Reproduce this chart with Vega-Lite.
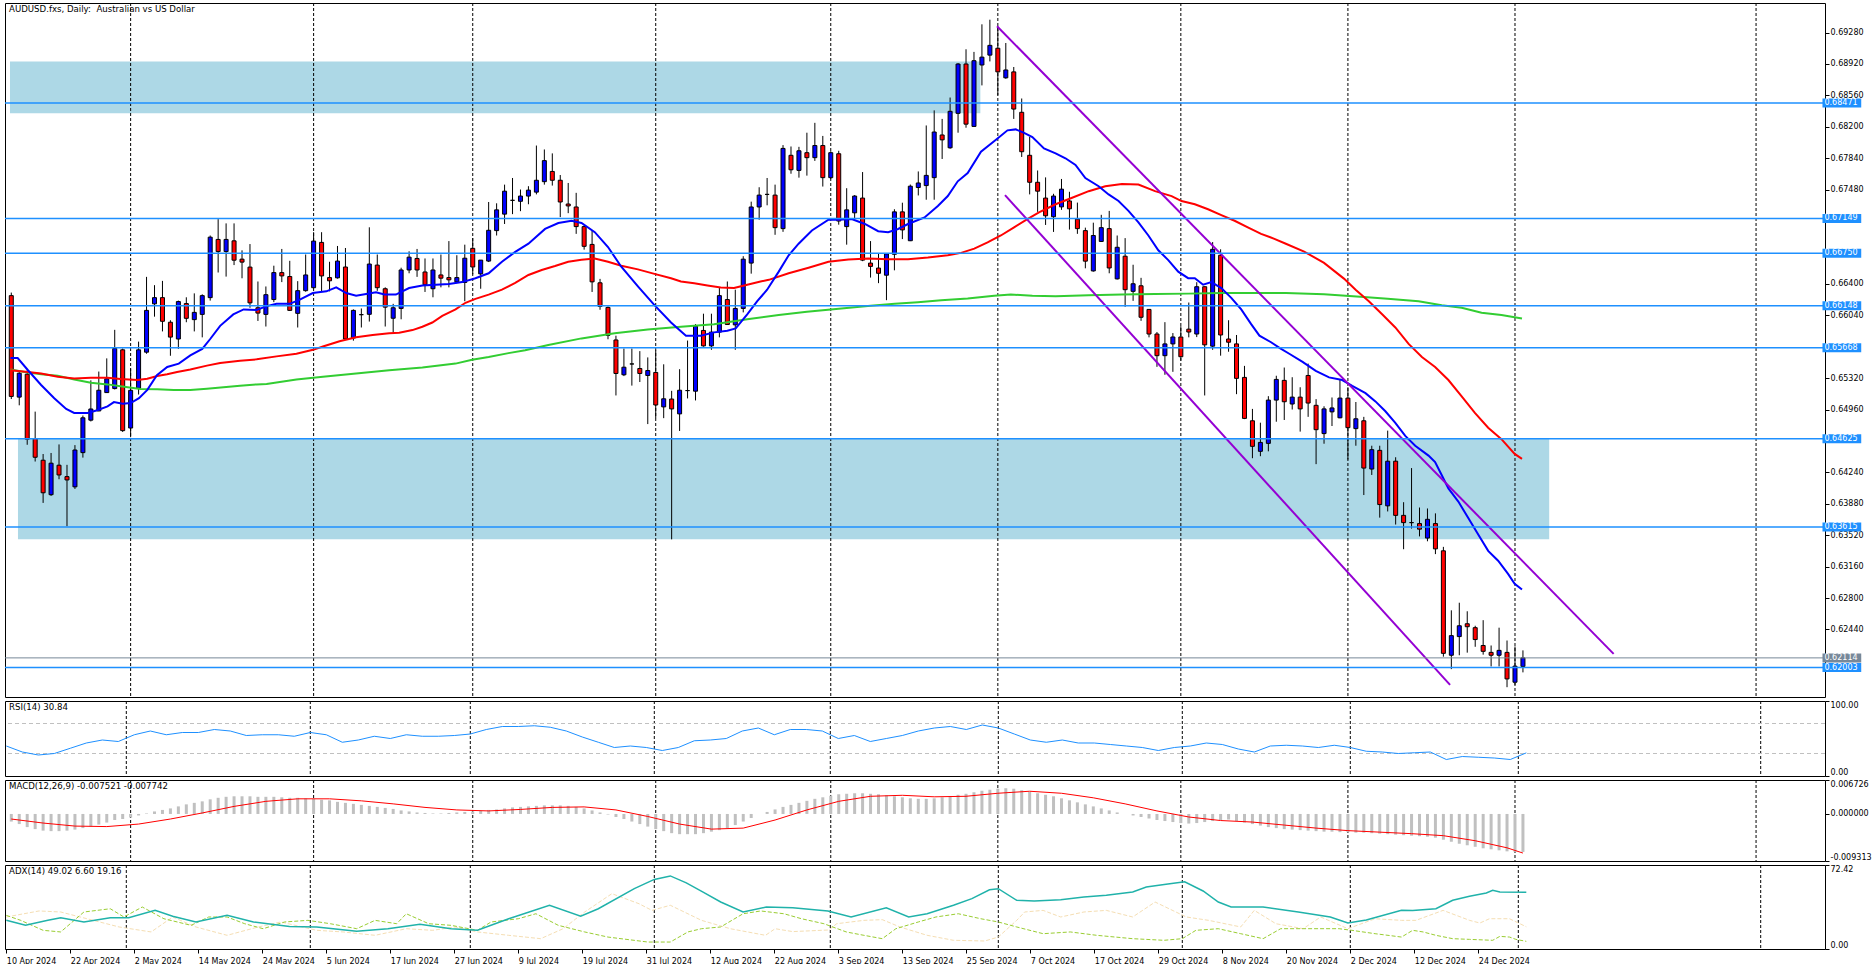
{
"$schema": "https://vega.github.io/schema/vega-lite/v6.json",
"padding": {"left": 2, "top": 2, "right": 0, "bottom": 0},
"background": "white",
"spacing": 2,
"config": {
  "view": {"stroke": "#000000", "strokeWidth": 1},
  "font": "DejaVu Sans",
  "axis": {"labelFont": "DejaVu Sans", "labelFontSize": 8, "labelColor": "#000000", "tickColor": "#000000", "grid": false, "title": null, "tickSize": 4, "labelPadding": 1, "domain": false, "labelOverlap": false},
  "title": {"font": "DejaVu Sans", "fontSize": 8.6, "fontWeight": "normal", "color": "#000000", "anchor": "start", "frame": "group", "offset": -11, "dx": 4, "baseline": "alphabetic"}
},
"datasets": {
  "grid": [{"i":15},{"i":38},{"i":58},{"i":81},{"i":103},{"i":124},{"i":147},{"i":168},{"i":189},{"i":219.3}],
  "zones": [{"a":-0.1625,"b":121.8,"p1":0.68354,"p2":0.68949},{"a":0.84,"b":193.3,"p1":0.63472,"p2":0.64625}],
  "levels": [{"p":0.68471},{"p":0.67149},{"p":0.6675},{"p":0.66148},{"p":0.65668},{"p":0.64625},{"p":0.63615},{"p":0.62003}],
  "bid": [{"p":0.62114}],
  "chan": [{"s":"up","i":123.9,"p":0.69352},{"s":"up","i":201.4,"p":0.6216},{"s":"lo","i":124.9,"p":0.67417},{"s":"lo","i":180.84,"p":0.61805}],
  "bars": [
{"i":0,"o":0.66265,"h":0.663,"l":0.6508,"c":0.6511},
{"i":1,"o":0.65102,"h":0.65391,"l":0.65008,"c":0.65376},
{"i":2,"o":0.65365,"h":0.6541,"l":0.64556,"c":0.6462},
{"i":3,"o":0.64627,"h":0.64936,"l":0.64364,"c":0.64413},
{"i":4,"o":0.64379,"h":0.6445,"l":0.6389,"c":0.64006},
{"i":5,"o":0.63984,"h":0.64462,"l":0.6397,"c":0.64345},
{"i":6,"o":0.64322,"h":0.6456,"l":0.64161,"c":0.6421},
{"i":7,"o":0.64191,"h":0.64326,"l":0.63622,"c":0.64153},
{"i":8,"o":0.64074,"h":0.64552,"l":0.6405,"c":0.64496},
{"i":9,"o":0.64466,"h":0.64891,"l":0.64409,"c":0.64865},
{"i":10,"o":0.64838,"h":0.65294,"l":0.64823,"c":0.64966},
{"i":11,"o":0.64944,"h":0.65395,"l":0.6494,"c":0.65181},
{"i":12,"o":0.65154,"h":0.65546,"l":0.6515,"c":0.65312},
{"i":13,"o":0.652,"h":0.65873,"l":0.6519,"c":0.65659},
{"i":14,"o":0.65644,"h":0.65659,"l":0.64703,"c":0.64718},
{"i":15,"o":0.64748,"h":0.65429,"l":0.64643,"c":0.6518},
{"i":16,"o":0.65204,"h":0.65738,"l":0.65132,"c":0.65644},
{"i":17,"o":0.65617,"h":0.6648,"l":0.65599,"c":0.66096},
{"i":18,"o":0.66171,"h":0.66385,"l":0.66024,"c":0.66242},
{"i":19,"o":0.66242,"h":0.66434,"l":0.65855,"c":0.65971},
{"i":20,"o":0.6596,"h":0.65983,"l":0.65576,"c":0.6579},
{"i":21,"o":0.65768,"h":0.66208,"l":0.65655,"c":0.66197},
{"i":22,"o":0.66174,"h":0.66246,"l":0.6596,"c":0.66005},
{"i":23,"o":0.6599,"h":0.66291,"l":0.65855,"c":0.66073},
{"i":24,"o":0.6605,"h":0.6628,"l":0.65787,"c":0.66265},
{"i":25,"o":0.66242,"h":0.66954,"l":0.66208,"c":0.66935},
{"i":26,"o":0.66909,"h":0.67142,"l":0.6653,"c":0.6677},
{"i":27,"o":0.6677,"h":0.67093,"l":0.66483,"c":0.66909},
{"i":28,"o":0.66893,"h":0.67093,"l":0.66615,"c":0.66671},
{"i":29,"o":0.66683,"h":0.66784,"l":0.66464,"c":0.66649},
{"i":30,"o":0.66592,"h":0.66856,"l":0.66126,"c":0.66182},
{"i":31,"o":0.66126,"h":0.66427,"l":0.65975,"c":0.66065},
{"i":32,"o":0.6605,"h":0.6637,"l":0.65911,"c":0.66276},
{"i":33,"o":0.6622,"h":0.66608,"l":0.6619,"c":0.66529},
{"i":34,"o":0.66529,"h":0.668,"l":0.6642,"c":0.66491},
{"i":35,"o":0.66484,"h":0.66664,"l":0.6609,"c":0.66096},
{"i":36,"o":0.66062,"h":0.66431,"l":0.659,"c":0.66322},
{"i":37,"o":0.66322,"h":0.66736,"l":0.6631,"c":0.66502},
{"i":38,"o":0.66356,"h":0.66992,"l":0.6635,"c":0.6689},
{"i":39,"o":0.66875,"h":0.66992,"l":0.66318,"c":0.66491},
{"i":40,"o":0.66472,"h":0.66653,"l":0.66314,"c":0.66435},
{"i":41,"o":0.66469,"h":0.66834,"l":0.6646,"c":0.66661},
{"i":42,"o":0.66593,"h":0.66811,"l":0.6576,"c":0.65768},
{"i":43,"o":0.6578,"h":0.66107,"l":0.65749,"c":0.66096},
{"i":44,"o":0.66047,"h":0.66118,"l":0.659,"c":0.66047},
{"i":45,"o":0.66051,"h":0.67048,"l":0.65968,"c":0.66627},
{"i":46,"o":0.66615,"h":0.66736,"l":0.6632,"c":0.66356},
{"i":47,"o":0.66344,"h":0.6636,"l":0.65911,"c":0.66133},
{"i":48,"o":0.66006,"h":0.66171,"l":0.65844,"c":0.66126},
{"i":49,"o":0.66118,"h":0.66585,"l":0.65994,"c":0.66559},
{"i":50,"o":0.66559,"h":0.66773,"l":0.66521,"c":0.66706},
{"i":51,"o":0.66691,"h":0.668,"l":0.6648,"c":0.66559},
{"i":52,"o":0.66536,"h":0.66691,"l":0.66307,"c":0.6639},
{"i":53,"o":0.66344,"h":0.66691,"l":0.66246,"c":0.66559},
{"i":54,"o":0.66502,"h":0.66736,"l":0.6636,"c":0.66465},
{"i":55,"o":0.66472,"h":0.6689,"l":0.6636,"c":0.66446},
{"i":56,"o":0.66423,"h":0.66728,"l":0.66408,"c":0.66472},
{"i":57,"o":0.66416,"h":0.66849,"l":0.66201,"c":0.66694},
{"i":58,"o":0.66807,"h":0.66924,"l":0.6651,"c":0.66593},
{"i":59,"o":0.66514,"h":0.66672,"l":0.66344,"c":0.66672},
{"i":60,"o":0.66661,"h":0.67338,"l":0.6665,"c":0.67014},
{"i":61,"o":0.6701,"h":0.67323,"l":0.66954,"c":0.67248},
{"i":62,"o":0.67199,"h":0.67537,"l":0.67086,"c":0.67462},
{"i":63,"o":0.67357,"h":0.67613,"l":0.67199,"c":0.67357},
{"i":64,"o":0.67346,"h":0.67481,"l":0.67233,"c":0.67406},
{"i":65,"o":0.67406,"h":0.67519,"l":0.67312,"c":0.67474},
{"i":66,"o":0.67451,"h":0.67985,"l":0.67425,"c":0.67587},
{"i":67,"o":0.67571,"h":0.6794,"l":0.67537,"c":0.67812},
{"i":68,"o":0.67688,"h":0.67895,"l":0.67526,"c":0.67587},
{"i":69,"o":0.67587,"h":0.67647,"l":0.67165,"c":0.67338},
{"i":70,"o":0.67315,"h":0.67556,"l":0.6721,"c":0.67293},
{"i":71,"o":0.67281,"h":0.67443,"l":0.66973,"c":0.67056},
{"i":72,"o":0.67056,"h":0.6707,"l":0.66792,"c":0.6683},
{"i":73,"o":0.66852,"h":0.6701,"l":0.66307,"c":0.66423},
{"i":74,"o":0.66412,"h":0.66457,"l":0.66103,"c":0.66141},
{"i":75,"o":0.6613,"h":0.66141,"l":0.65765,"c":0.6581},
{"i":76,"o":0.65757,"h":0.65806,"l":0.65121,"c":0.65373},
{"i":77,"o":0.65358,"h":0.65659,"l":0.65343,"c":0.65445},
{"i":78,"o":0.65482,"h":0.65659,"l":0.65234,"c":0.65482},
{"i":79,"o":0.6543,"h":0.65629,"l":0.65275,"c":0.65373},
{"i":80,"o":0.6535,"h":0.65557,"l":0.64793,"c":0.65407},
{"i":81,"o":0.65385,"h":0.65637,"l":0.64861,"c":0.65012},
{"i":82,"o":0.6499,"h":0.65478,"l":0.64861,"c":0.65083},
{"i":83,"o":0.6508,"h":0.65174,"l":0.63472,"c":0.64967},
{"i":84,"o":0.6491,"h":0.65422,"l":0.64714,"c":0.65181},
{"i":85,"o":0.65177,"h":0.6575,"l":0.65087,"c":0.65177},
{"i":86,"o":0.6517,"h":0.65938,"l":0.65064,"c":0.65915},
{"i":87,"o":0.65866,"h":0.66058,"l":0.6568,"c":0.65689},
{"i":88,"o":0.65689,"h":0.66058,"l":0.65644,"c":0.65847},
{"i":89,"o":0.65847,"h":0.66352,"l":0.65787,"c":0.66265},
{"i":90,"o":0.6622,"h":0.66427,"l":0.6593,"c":0.65934},
{"i":91,"o":0.6593,"h":0.66333,"l":0.65644,"c":0.66118},
{"i":92,"o":0.66118,"h":0.66717,"l":0.66073,"c":0.66683},
{"i":93,"o":0.66638,"h":0.67342,"l":0.66517,"c":0.67281},
{"i":94,"o":0.67281,"h":0.67507,"l":0.67135,"c":0.67417},
{"i":95,"o":0.67425,"h":0.67613,"l":0.673,"c":0.67425},
{"i":96,"o":0.67417,"h":0.67537,"l":0.66962,"c":0.67044},
{"i":97,"o":0.67033,"h":0.6799,"l":0.66996,"c":0.67952},
{"i":98,"o":0.67873,"h":0.67974,"l":0.67662,"c":0.67707},
{"i":99,"o":0.677,"h":0.6797,"l":0.67617,"c":0.67925},
{"i":100,"o":0.67903,"h":0.68132,"l":0.6764,"c":0.67846},
{"i":101,"o":0.67846,"h":0.68245,"l":0.67809,"c":0.67985},
{"i":102,"o":0.67985,"h":0.68095,"l":0.67515,"c":0.67617},
{"i":103,"o":0.67617,"h":0.6792,"l":0.676,"c":0.67903},
{"i":104,"o":0.67891,"h":0.67925,"l":0.67078,"c":0.6712},
{"i":105,"o":0.67056,"h":0.67496,"l":0.66849,"c":0.67248},
{"i":106,"o":0.67214,"h":0.67417,"l":0.67135,"c":0.67406},
{"i":107,"o":0.67383,"h":0.67681,"l":0.6666,"c":0.66672},
{"i":108,"o":0.66638,"h":0.6689,"l":0.66472,"c":0.666},
{"i":109,"o":0.66581,"h":0.66743,"l":0.66408,"c":0.66521},
{"i":110,"o":0.66499,"h":0.66743,"l":0.66213,"c":0.66743},
{"i":111,"o":0.66739,"h":0.67255,"l":0.66555,"c":0.67225},
{"i":112,"o":0.67225,"h":0.6733,"l":0.66913,"c":0.67018},
{"i":113,"o":0.66894,"h":0.67538,"l":0.6689,"c":0.67519},
{"i":114,"o":0.67504,"h":0.67688,"l":0.67413,"c":0.67556},
{"i":115,"o":0.67526,"h":0.68215,"l":0.67364,"c":0.67643},
{"i":116,"o":0.67617,"h":0.68388,"l":0.67364,"c":0.6814},
{"i":117,"o":0.68106,"h":0.6829,"l":0.67831,"c":0.6805},
{"i":118,"o":0.67959,"h":0.68535,"l":0.67948,"c":0.68377},
{"i":119,"o":0.68354,"h":0.6893,"l":0.68132,"c":0.68919},
{"i":120,"o":0.68919,"h":0.69088,"l":0.68189,"c":0.6823},
{"i":121,"o":0.68204,"h":0.69058,"l":0.682,"c":0.68957},
{"i":122,"o":0.68908,"h":0.69374,"l":0.68674,"c":0.68998},
{"i":123,"o":0.69021,"h":0.69427,"l":0.68949,"c":0.69133},
{"i":124,"o":0.691,"h":0.69352,"l":0.68561,"c":0.68829},
{"i":125,"o":0.68761,"h":0.6916,"l":0.6875,"c":0.68851},
{"i":126,"o":0.68829,"h":0.68885,"l":0.6829,"c":0.68403},
{"i":127,"o":0.68366,"h":0.68524,"l":0.67854,"c":0.67914},
{"i":128,"o":0.67873,"h":0.68083,"l":0.67425,"c":0.67564},
{"i":129,"o":0.67564,"h":0.67699,"l":0.67225,"c":0.67462},
{"i":130,"o":0.67383,"h":0.6762,"l":0.67075,"c":0.6718},
{"i":131,"o":0.67169,"h":0.67432,"l":0.66995,"c":0.67406},
{"i":132,"o":0.67282,"h":0.67602,"l":0.67248,"c":0.67485},
{"i":133,"o":0.6735,"h":0.67455,"l":0.67022,"c":0.6726},
{"i":134,"o":0.67142,"h":0.67331,"l":0.66973,"c":0.67033},
{"i":135,"o":0.6701,"h":0.67044,"l":0.66578,"c":0.6666},
{"i":136,"o":0.66548,"h":0.67101,"l":0.6654,"c":0.66954},
{"i":137,"o":0.66886,"h":0.67191,"l":0.6688,"c":0.67044},
{"i":138,"o":0.67033,"h":0.67236,"l":0.66521,"c":0.66582},
{"i":139,"o":0.66457,"h":0.66954,"l":0.6645,"c":0.66819},
{"i":140,"o":0.66717,"h":0.66924,"l":0.66137,"c":0.66333},
{"i":141,"o":0.66314,"h":0.66619,"l":0.66205,"c":0.66401},
{"i":142,"o":0.66378,"h":0.66469,"l":0.65976,"c":0.66017},
{"i":143,"o":0.66107,"h":0.6611,"l":0.65787,"c":0.65825},
{"i":144,"o":0.65825,"h":0.65848,"l":0.65449,"c":0.65577},
{"i":145,"o":0.65577,"h":0.65961,"l":0.65358,"c":0.65712},
{"i":146,"o":0.65712,"h":0.65836,"l":0.65392,"c":0.65791},
{"i":147,"o":0.65791,"h":0.65915,"l":0.6552,"c":0.65565},
{"i":148,"o":0.65881,"h":0.66186,"l":0.65787,"c":0.65848},
{"i":149,"o":0.65825,"h":0.66419,"l":0.6579,"c":0.66367},
{"i":150,"o":0.66367,"h":0.6637,"l":0.65121,"c":0.65701},
{"i":151,"o":0.65686,"h":0.66879,"l":0.65644,"c":0.66796},
{"i":152,"o":0.66728,"h":0.66796,"l":0.65577,"c":0.65814},
{"i":153,"o":0.65768,"h":0.65983,"l":0.65622,"c":0.65731},
{"i":154,"o":0.65712,"h":0.65814,"l":0.65136,"c":0.65317},
{"i":155,"o":0.65328,"h":0.6546,"l":0.6485,"c":0.64858},
{"i":156,"o":0.64831,"h":0.64967,"l":0.64402,"c":0.64538},
{"i":157,"o":0.64481,"h":0.64809,"l":0.64425,"c":0.64583},
{"i":158,"o":0.64572,"h":0.65113,"l":0.64481,"c":0.65068},
{"i":159,"o":0.65068,"h":0.65347,"l":0.6482,"c":0.65305},
{"i":160,"o":0.65294,"h":0.65441,"l":0.6484,"c":0.65049},
{"i":161,"o":0.65023,"h":0.6533,"l":0.6496,"c":0.65102},
{"i":162,"o":0.65102,"h":0.65215,"l":0.64707,"c":0.64967},
{"i":163,"o":0.6535,"h":0.65486,"l":0.64876,"c":0.65034},
{"i":164,"o":0.65008,"h":0.65079,"l":0.64334,"c":0.64729},
{"i":165,"o":0.64684,"h":0.64997,"l":0.64568,"c":0.64967},
{"i":166,"o":0.64933,"h":0.65098,"l":0.64771,"c":0.64978},
{"i":167,"o":0.64865,"h":0.65305,"l":0.6486,"c":0.65091},
{"i":168,"o":0.65091,"h":0.65215,"l":0.64387,"c":0.64752},
{"i":169,"o":0.64741,"h":0.65046,"l":0.64545,"c":0.64854},
{"i":170,"o":0.64831,"h":0.64876,"l":0.6398,"c":0.64289},
{"i":171,"o":0.64278,"h":0.64545,"l":0.6421,"c":0.645},
{"i":172,"o":0.64492,"h":0.64545,"l":0.63721,"c":0.63871},
{"i":173,"o":0.63856,"h":0.64718,"l":0.63792,"c":0.64368},
{"i":174,"o":0.64368,"h":0.64413,"l":0.63642,"c":0.63747},
{"i":175,"o":0.63747,"h":0.63898,"l":0.63359,"c":0.63664},
{"i":176,"o":0.63664,"h":0.64289,"l":0.63596,"c":0.63664},
{"i":177,"o":0.63653,"h":0.63837,"l":0.63506,"c":0.63589},
{"i":178,"o":0.63487,"h":0.63826,"l":0.6345,"c":0.63702},
{"i":179,"o":0.63653,"h":0.6377,"l":0.63303,"c":0.63363},
{"i":180,"o":0.63341,"h":0.63386,"l":0.62128,"c":0.62166},
{"i":181,"o":0.62144,"h":0.62659,"l":0.61985,"c":0.62369},
{"i":182,"o":0.62358,"h":0.62746,"l":0.62144,"c":0.62482},
{"i":183,"o":0.62505,"h":0.62648,"l":0.62174,"c":0.62471},
{"i":184,"o":0.6246,"h":0.62482,"l":0.62241,"c":0.62324},
{"i":185,"o":0.62256,"h":0.62546,"l":0.62151,"c":0.62189},
{"i":186,"o":0.62177,"h":0.62256,"l":0.62016,"c":0.62144},
{"i":187,"o":0.62144,"h":0.6246,"l":0.62016,"c":0.622},
{"i":188,"o":0.62177,"h":0.62313,"l":0.61778,"c":0.61873},
{"i":189,"o":0.61835,"h":0.62245,"l":0.61805,"c":0.62019},
{"i":190,"o":0.62016,"h":0.622,"l":0.61948,"c":0.62114}
  ],
  "ma20": [
{"i":-0.1,"p":0.6555},{"i":0.8,"p":0.6555},{"i":2.1,"p":0.6541},{"i":3.75,"p":0.65241},{"i":5.4,"p":0.6509},{"i":6.9,"p":0.64966},{"i":7.9,"p":0.64921},{"i":9.6,"p":0.64921},{"i":10.8,"p":0.64951},{"i":12.1,"p":0.64996},{"i":12.9,"p":0.65045},{"i":14,"p":0.65026},{"i":15,"p":0.65034},{"i":16.05,"p":0.6509},{"i":17.1,"p":0.65185},{"i":18.3,"p":0.65354},{"i":19.6,"p":0.65448},{"i":21.05,"p":0.65486},{"i":22.5,"p":0.6558},{"i":24,"p":0.65655},{"i":25,"p":0.65768},{"i":26.25,"p":0.65919},{"i":27.9,"p":0.6605},{"i":29.2,"p":0.66107},{"i":30.84,"p":0.661},{"i":32.1,"p":0.66145},{"i":33.34,"p":0.66171},{"i":35,"p":0.66171},{"i":36.26,"p":0.6622},{"i":37.9,"p":0.66295},{"i":39.6,"p":0.66314},{"i":40.84,"p":0.66359},{"i":42.1,"p":0.66295},{"i":43.34,"p":0.66265},{"i":44.6,"p":0.66284},{"i":45.84,"p":0.66303},{"i":46.9,"p":0.66277},{"i":48.34,"p":0.66277},{"i":50,"p":0.66352},{"i":51.67,"p":0.66382},{"i":53.34,"p":0.6639},{"i":55,"p":0.66397},{"i":56.67,"p":0.6642},{"i":58.34,"p":0.66465},{"i":60,"p":0.66521},{"i":61.67,"p":0.66653},{"i":63.34,"p":0.66766},{"i":65,"p":0.6686},{"i":67.09,"p":0.67029},{"i":68.76,"p":0.67097},{"i":70.42,"p":0.67123},{"i":71.67,"p":0.67097},{"i":73.34,"p":0.66992},{"i":75,"p":0.66822},{"i":76.67,"p":0.66596},{"i":78.76,"p":0.66371},{"i":80.84,"p":0.66156},{"i":82.92,"p":0.65957},{"i":84.8,"p":0.65806},{"i":86.67,"p":0.65806},{"i":88.34,"p":0.65844},{"i":90,"p":0.65863},{"i":91.05,"p":0.65889},{"i":92.5,"p":0.66051},{"i":93.76,"p":0.66201},{"i":95,"p":0.66333},{"i":96.46,"p":0.6654},{"i":97.71,"p":0.66728},{"i":98.96,"p":0.6686},{"i":100.63,"p":0.67011},{"i":102.71,"p":0.67135},{"i":103.96,"p":0.67135},{"i":105.63,"p":0.67142},{"i":107.29,"p":0.67086},{"i":108.96,"p":0.67003},{"i":110.21,"p":0.66992},{"i":111.46,"p":0.67029},{"i":112.71,"p":0.67086},{"i":114.79,"p":0.67161},{"i":116.46,"p":0.67293},{"i":117.71,"p":0.67406},{"i":118.96,"p":0.67575},{"i":120.21,"p":0.67669},{"i":121.88,"p":0.67914},{"i":123.96,"p":0.68065},{"i":125.21,"p":0.68159},{"i":126.25,"p":0.6817},{"i":127.3,"p":0.6813},{"i":128.34,"p":0.68083},{"i":129.8,"p":0.67952},{"i":131.26,"p":0.67895},{"i":132.5,"p":0.67839},{"i":133.76,"p":0.67763},{"i":135,"p":0.67613},{"i":136.67,"p":0.67519},{"i":137.92,"p":0.67425},{"i":139.17,"p":0.67349},{"i":140.42,"p":0.67236},{"i":141.67,"p":0.67105},{"i":142.92,"p":0.66954},{"i":144.17,"p":0.66785},{"i":145.42,"p":0.66672},{"i":146.67,"p":0.6654},{"i":147.92,"p":0.66465},{"i":148.76,"p":0.66465},{"i":149.8,"p":0.6639},{"i":150.84,"p":0.6642},{"i":152.09,"p":0.66352},{"i":153.34,"p":0.66239},{"i":154.59,"p":0.66107},{"i":155.84,"p":0.65938},{"i":156.88,"p":0.65806},{"i":158.34,"p":0.65731},{"i":159.5,"p":0.6566},{"i":160.63,"p":0.65599},{"i":162.3,"p":0.65505},{"i":163.96,"p":0.65403},{"i":165.63,"p":0.65328},{"i":167.29,"p":0.65298},{"i":168.54,"p":0.6523},{"i":170.21,"p":0.65147},{"i":171.46,"p":0.65053},{"i":172.71,"p":0.6494},{"i":173.96,"p":0.64808},{"i":175.21,"p":0.64658},{"i":176.46,"p":0.64545},{"i":178.13,"p":0.64432},{"i":178.96,"p":0.64357},{"i":179.8,"p":0.64206},{"i":180.63,"p":0.64056},{"i":181.88,"p":0.63905},{"i":183.13,"p":0.63717},{"i":184.38,"p":0.63529},{"i":185.63,"p":0.6334},{"i":186.88,"p":0.63228},{"i":188.13,"p":0.63077},{"i":188.96,"p":0.62964},{"i":189.88,"p":0.62897}
  ],
  "ma50": [
{"i":-0.1,"p":0.6541},{"i":2.09,"p":0.65391},{"i":3.75,"p":0.65373},{"i":5.84,"p":0.65335},{"i":7.92,"p":0.65316},{"i":10,"p":0.65324},{"i":12.09,"p":0.65324},{"i":13.75,"p":0.65309},{"i":15.84,"p":0.65297},{"i":17.09,"p":0.65312},{"i":18.34,"p":0.65343},{"i":19.59,"p":0.65365},{"i":20.84,"p":0.65391},{"i":22.5,"p":0.65418},{"i":24.59,"p":0.65463},{"i":26.25,"p":0.65493},{"i":28.75,"p":0.6552},{"i":30.84,"p":0.65535},{"i":33.34,"p":0.65569},{"i":35.84,"p":0.65599},{"i":37.92,"p":0.65644},{"i":39.17,"p":0.65682},{"i":41.26,"p":0.65742},{"i":43.34,"p":0.65787},{"i":45.42,"p":0.65814},{"i":47.5,"p":0.65833},{"i":48.76,"p":0.6584},{"i":50.42,"p":0.6587},{"i":51.67,"p":0.65908},{"i":52.92,"p":0.65957},{"i":54.17,"p":0.66032},{"i":55.84,"p":0.66107},{"i":57.09,"p":0.66183},{"i":58.34,"p":0.66228},{"i":60,"p":0.66277},{"i":61.67,"p":0.66333},{"i":63.34,"p":0.6641},{"i":65,"p":0.66502},{"i":66.67,"p":0.66559},{"i":68.34,"p":0.66604},{"i":70,"p":0.66653},{"i":71.67,"p":0.66676},{"i":73.34,"p":0.66691},{"i":75,"p":0.66653},{"i":76.67,"p":0.66608},{"i":78.76,"p":0.66566},{"i":80.84,"p":0.66514},{"i":82.92,"p":0.66465},{"i":84.17,"p":0.66427},{"i":85.84,"p":0.66408},{"i":87.5,"p":0.66382},{"i":89.17,"p":0.66359},{"i":90.84,"p":0.66352},{"i":92.5,"p":0.66389},{"i":94.17,"p":0.66427},{"i":95.21,"p":0.66446},{"i":97.71,"p":0.66521},{"i":100.21,"p":0.66585},{"i":102.71,"p":0.66653},{"i":105.21,"p":0.66679},{"i":107.71,"p":0.66691},{"i":110.21,"p":0.66683},{"i":112.71,"p":0.66683},{"i":115.21,"p":0.66702},{"i":117.71,"p":0.66728},{"i":119.38,"p":0.66755},{"i":121.04,"p":0.66804},{"i":122.71,"p":0.66875},{"i":124.38,"p":0.66954},{"i":126.04,"p":0.67048},{"i":127.71,"p":0.67142},{"i":129.17,"p":0.67218},{"i":131.26,"p":0.67312},{"i":133.34,"p":0.67387},{"i":135.42,"p":0.67462},{"i":137.5,"p":0.67519},{"i":139.59,"p":0.67545},{"i":141.67,"p":0.67538},{"i":143.76,"p":0.67462},{"i":145.84,"p":0.67406},{"i":147.09,"p":0.67349},{"i":148.76,"p":0.67312},{"i":150.42,"p":0.67255},{"i":152.09,"p":0.67187},{"i":153.76,"p":0.67123},{"i":155.42,"p":0.67048},{"i":157.09,"p":0.66973},{"i":158.76,"p":0.66916},{"i":160.2,"p":0.6686},{"i":162.5,"p":0.6677},{"i":165,"p":0.6664},{"i":167.5,"p":0.6646},{"i":169,"p":0.6633},{"i":170.63,"p":0.66201},{"i":172.3,"p":0.66051},{"i":173.96,"p":0.659},{"i":175.63,"p":0.65712},{"i":177.3,"p":0.65561},{"i":178.96,"p":0.65448},{"i":180.63,"p":0.65298},{"i":182.3,"p":0.6511},{"i":183.96,"p":0.64921},{"i":185.63,"p":0.64752},{"i":187.3,"p":0.6462},{"i":188.96,"p":0.64451},{"i":189.88,"p":0.64394}
  ],
  "ma200": [
{"i":-0.1,"p":0.65418},{"i":1.67,"p":0.65391},{"i":3.75,"p":0.65365},{"i":5.84,"p":0.65346},{"i":7.92,"p":0.65305},{"i":10,"p":0.65267},{"i":12.09,"p":0.65248},{"i":14.17,"p":0.65222},{"i":16.25,"p":0.65196},{"i":18.34,"p":0.65192},{"i":20.42,"p":0.65184},{"i":22.5,"p":0.65184},{"i":24.59,"p":0.65199},{"i":26.67,"p":0.65214},{"i":28.75,"p":0.65233},{"i":30.84,"p":0.65248},{"i":32.09,"p":0.65252},{"i":35.84,"p":0.65305},{"i":39.17,"p":0.65336},{"i":43.34,"p":0.65373},{"i":47.5,"p":0.65411},{"i":51.67,"p":0.65441},{"i":55.84,"p":0.65486},{"i":57.92,"p":0.65531},{"i":60,"p":0.65561},{"i":62.5,"p":0.65606},{"i":64.59,"p":0.6564},{"i":67.5,"p":0.657},{"i":71.67,"p":0.65775},{"i":75.84,"p":0.65835},{"i":80,"p":0.65877},{"i":84.17,"p":0.65908},{"i":88.34,"p":0.65938},{"i":92.5,"p":0.65994},{"i":96.46,"p":0.66043},{"i":100,"p":0.6608},{"i":104,"p":0.66115},{"i":108,"p":0.6615},{"i":111.04,"p":0.66171},{"i":113.96,"p":0.6619},{"i":116.88,"p":0.66213},{"i":120.21,"p":0.66231},{"i":123.54,"p":0.66265},{"i":125.63,"p":0.66277},{"i":128.34,"p":0.66265},{"i":131.26,"p":0.66258},{"i":135.42,"p":0.66269},{"i":139.59,"p":0.66277},{"i":143.76,"p":0.66284},{"i":147.92,"p":0.66288},{"i":152.09,"p":0.66295},{"i":156.26,"p":0.66295},{"i":160.2,"p":0.66295},{"i":165,"p":0.6628},{"i":170,"p":0.6625},{"i":173,"p":0.6623},{"i":176.88,"p":0.66201},{"i":179.8,"p":0.66156},{"i":182.3,"p":0.66126},{"i":184.8,"p":0.66069},{"i":187.3,"p":0.66043},{"i":189.88,"p":0.66002}
  ],
  "rsi": [
{"i":0,"v":40},{"i":2,"v":32},{"i":4,"v":28},{"i":6,"v":30},{"i":8,"v":37},{"i":10,"v":44},{"i":12,"v":48},{"i":14,"v":46},{"i":16,"v":55},{"i":18,"v":60},{"i":20,"v":55},{"i":22,"v":58},{"i":24,"v":58},{"i":26,"v":62},{"i":28,"v":60},{"i":30,"v":54},{"i":32,"v":55},{"i":34,"v":55},{"i":36,"v":53},{"i":38,"v":58},{"i":40,"v":55},{"i":42,"v":45},{"i":44,"v":48},{"i":46,"v":53},{"i":48,"v":50},{"i":50,"v":55},{"i":52,"v":53},{"i":54,"v":53},{"i":56,"v":54},{"i":58,"v":56},{"i":60,"v":62},{"i":62,"v":66},{"i":64,"v":66},{"i":66,"v":67},{"i":68,"v":65},{"i":70,"v":60},{"i":72,"v":52},{"i":74,"v":45},{"i":76,"v":38},{"i":78,"v":40},{"i":80,"v":38},{"i":82,"v":34},{"i":84,"v":38},{"i":86,"v":47},{"i":88,"v":48},{"i":90,"v":50},{"i":92,"v":60},{"i":94,"v":64},{"i":96,"v":55},{"i":98,"v":62},{"i":100,"v":62},{"i":102,"v":60},{"i":104,"v":50},{"i":106,"v":54},{"i":108,"v":46},{"i":110,"v":50},{"i":112,"v":54},{"i":114,"v":60},{"i":116,"v":64},{"i":118,"v":66},{"i":120,"v":62},{"i":122,"v":68},{"i":124,"v":64},{"i":126,"v":56},{"i":128,"v":48},{"i":130,"v":45},{"i":132,"v":48},{"i":134,"v":44},{"i":136,"v":44},{"i":138,"v":42},{"i":140,"v":40},{"i":142,"v":38},{"i":144,"v":34},{"i":146,"v":38},{"i":148,"v":40},{"i":150,"v":44},{"i":152,"v":42},{"i":154,"v":36},{"i":156,"v":32},{"i":158,"v":40},{"i":160,"v":41},{"i":162,"v":40},{"i":164,"v":38},{"i":166,"v":41},{"i":168,"v":38},{"i":170,"v":33},{"i":172,"v":32},{"i":174,"v":30},{"i":176,"v":31},{"i":178,"v":32},{"i":180,"v":22},{"i":182,"v":26},{"i":184,"v":25},{"i":186,"v":24},{"i":188,"v":22},{"i":190,"v":30.84}
  ],
  "macd": [
{"i":0,"m":-0.0015},{"i":1,"m":-0.002},{"i":2,"m":-0.0026},{"i":3,"m":-0.003},{"i":4,"m":-0.0033},{"i":5,"m":-0.0034},{"i":6,"m":-0.0034},{"i":7,"m":-0.0033},{"i":8,"m":-0.0031},{"i":9,"m":-0.0028},{"i":10,"m":-0.0025},{"i":11,"m":-0.0021},{"i":12,"m":-0.0017},{"i":13,"m":-0.0012},{"i":14,"m":-0.001},{"i":15,"m":-0.0007},{"i":16,"m":-0.0003},{"i":17,"m":0.0001},{"i":18,"m":0.0005},{"i":19,"m":0.0008},{"i":20,"m":0.0011},{"i":21,"m":0.0015},{"i":22,"m":0.0019},{"i":23,"m":0.0022},{"i":24,"m":0.0025},{"i":25,"m":0.0029},{"i":26,"m":0.0032},{"i":27,"m":0.0034},{"i":28,"m":0.0035},{"i":29,"m":0.0035},{"i":30,"m":0.0035},{"i":31,"m":0.0034},{"i":32,"m":0.0034},{"i":33,"m":0.0034},{"i":34,"m":0.0033},{"i":35,"m":0.0032},{"i":36,"m":0.0032},{"i":37,"m":0.0031},{"i":38,"m":0.003},{"i":39,"m":0.0028},{"i":40,"m":0.0027},{"i":41,"m":0.0024},{"i":42,"m":0.0022},{"i":43,"m":0.002},{"i":44,"m":0.0018},{"i":45,"m":0.0016},{"i":46,"m":0.0014},{"i":47,"m":0.0012},{"i":48,"m":0.001},{"i":49,"m":0.0007},{"i":50,"m":0.0005},{"i":51,"m":0.0003},{"i":52,"m":0.0002},{"i":53,"m":0.0001},{"i":54,"m":0.0001},{"i":55,"m":0.0002},{"i":56,"m":0.0003},{"i":57,"m":0.0004},{"i":58,"m":0.0005},{"i":59,"m":0.0006},{"i":60,"m":0.0008},{"i":61,"m":0.0009},{"i":62,"m":0.0011},{"i":63,"m":0.0013},{"i":64,"m":0.0014},{"i":65,"m":0.0015},{"i":66,"m":0.0016},{"i":67,"m":0.0017},{"i":68,"m":0.0017},{"i":69,"m":0.0017},{"i":70,"m":0.0016},{"i":71,"m":0.0014},{"i":72,"m":0.0011},{"i":73,"m":0.0007},{"i":74,"m":0.0003},{"i":75,"m":-0.0001},{"i":76,"m":-0.0006},{"i":77,"m":-0.001},{"i":78,"m":-0.0015},{"i":79,"m":-0.002},{"i":80,"m":-0.0025},{"i":81,"m":-0.003},{"i":82,"m":-0.0034},{"i":83,"m":-0.0038},{"i":84,"m":-0.004},{"i":85,"m":-0.004},{"i":86,"m":-0.004},{"i":87,"m":-0.0038},{"i":88,"m":-0.0035},{"i":89,"m":-0.0032},{"i":90,"m":-0.0028},{"i":91,"m":-0.0022},{"i":92,"m":-0.0015},{"i":93,"m":-0.0008},{"i":94,"m":0.0},{"i":95,"m":0.0004},{"i":96,"m":0.0009},{"i":97,"m":0.0014},{"i":98,"m":0.0018},{"i":99,"m":0.0022},{"i":100,"m":0.0026},{"i":101,"m":0.003},{"i":102,"m":0.0033},{"i":103,"m":0.0036},{"i":104,"m":0.0039},{"i":105,"m":0.004},{"i":106,"m":0.0041},{"i":107,"m":0.0041},{"i":108,"m":0.004},{"i":109,"m":0.0039},{"i":110,"m":0.0037},{"i":111,"m":0.0035},{"i":112,"m":0.0033},{"i":113,"m":0.0031},{"i":114,"m":0.003},{"i":115,"m":0.003},{"i":116,"m":0.0031},{"i":117,"m":0.0033},{"i":118,"m":0.0035},{"i":119,"m":0.0038},{"i":120,"m":0.004},{"i":121,"m":0.0043},{"i":122,"m":0.0046},{"i":123,"m":0.0048},{"i":124,"m":0.005},{"i":125,"m":0.0051},{"i":126,"m":0.005},{"i":127,"m":0.0047},{"i":128,"m":0.0044},{"i":129,"m":0.0041},{"i":130,"m":0.0038},{"i":131,"m":0.0035},{"i":132,"m":0.0031},{"i":133,"m":0.0027},{"i":134,"m":0.0023},{"i":135,"m":0.0019},{"i":136,"m":0.0015},{"i":137,"m":0.0011},{"i":138,"m":0.0007},{"i":139,"m":0.0003},{"i":140,"m":0.0},{"i":141,"m":-0.0003},{"i":142,"m":-0.0006},{"i":143,"m":-0.0009},{"i":144,"m":-0.0012},{"i":145,"m":-0.0014},{"i":146,"m":-0.0016},{"i":147,"m":-0.0018},{"i":148,"m":-0.0019},{"i":149,"m":-0.0018},{"i":150,"m":-0.0016},{"i":151,"m":-0.0014},{"i":152,"m":-0.0012},{"i":153,"m":-0.0011},{"i":154,"m":-0.0014},{"i":155,"m":-0.0017},{"i":156,"m":-0.002},{"i":157,"m":-0.0023},{"i":158,"m":-0.0026},{"i":159,"m":-0.0028},{"i":160,"m":-0.003},{"i":161,"m":-0.0031},{"i":162,"m":-0.0032},{"i":163,"m":-0.0033},{"i":164,"m":-0.0034},{"i":165,"m":-0.0035},{"i":166,"m":-0.0035},{"i":167,"m":-0.0036},{"i":168,"m":-0.0036},{"i":169,"m":-0.0037},{"i":170,"m":-0.0037},{"i":171,"m":-0.0038},{"i":172,"m":-0.0039},{"i":173,"m":-0.004},{"i":174,"m":-0.0041},{"i":175,"m":-0.0042},{"i":176,"m":-0.0043},{"i":177,"m":-0.0044},{"i":178,"m":-0.0045},{"i":179,"m":-0.0047},{"i":180,"m":-0.0051},{"i":181,"m":-0.0055},{"i":182,"m":-0.0059},{"i":183,"m":-0.0062},{"i":184,"m":-0.0065},{"i":185,"m":-0.0068},{"i":186,"m":-0.007},{"i":187,"m":-0.0072},{"i":188,"m":-0.0074},{"i":189,"m":-0.0075},{"i":190,"m":-0.007521}
  ],
  "sig": [
{"i":0,"s":-0.001},{"i":4,"s":-0.0018},{"i":8,"s":-0.0024},{"i":12,"s":-0.0025},{"i":16,"s":-0.002},{"i":20,"s":-0.001},{"i":24,"s":0.0002},{"i":28,"s":0.0015},{"i":32,"s":0.0025},{"i":36,"s":0.003},{"i":40,"s":0.003},{"i":44,"s":0.0026},{"i":48,"s":0.002},{"i":52,"s":0.0013},{"i":56,"s":0.0008},{"i":60,"s":0.0006},{"i":64,"s":0.0009},{"i":68,"s":0.0013},{"i":72,"s":0.0014},{"i":76,"s":0.0008},{"i":80,"s":-0.0005},{"i":84,"s":-0.002},{"i":88,"s":-0.003},{"i":92,"s":-0.0028},{"i":96,"s":-0.0012},{"i":100,"s":0.0008},{"i":104,"s":0.0025},{"i":108,"s":0.0035},{"i":112,"s":0.0037},{"i":116,"s":0.0034},{"i":120,"s":0.0035},{"i":124,"s":0.0041},{"i":128,"s":0.0045},{"i":132,"s":0.0041},{"i":136,"s":0.0032},{"i":140,"s":0.002},{"i":144,"s":0.0006},{"i":148,"s":-0.0006},{"i":152,"s":-0.0013},{"i":156,"s":-0.0016},{"i":160,"s":-0.0022},{"i":164,"s":-0.0028},{"i":168,"s":-0.0033},{"i":172,"s":-0.0036},{"i":176,"s":-0.0039},{"i":180,"s":-0.0043},{"i":184,"s":-0.0053},{"i":188,"s":-0.0067},{"i":190,"s":-0.007742}
  ],
  "adx": [
{"i":0,"v":24.7},{"i":2.4,"v":20.4},{"i":5.2,"v":24.7},{"i":6.8,"v":27},{"i":9.7,"v":23.3},{"i":13,"v":27},{"i":15.3,"v":27},{"i":18.6,"v":33.3},{"i":20.8,"v":28.2},{"i":23.7,"v":23.3},{"i":27.6,"v":29},{"i":30.9,"v":23.3},{"i":35.4,"v":19.5},{"i":38.8,"v":19},{"i":43.8,"v":15.2},{"i":47.7,"v":17.5},{"i":51.7,"v":21.3},{"i":55.6,"v":17.5},{"i":58.9,"v":16.1},{"i":62.8,"v":26.1},{"i":67.9,"v":37.7},{"i":71.8,"v":28.2},{"i":74,"v":34.7},{"i":78.5,"v":52},{"i":81,"v":60},{"i":83,"v":63},{"i":85,"v":57},{"i":87.1,"v":49},{"i":89.3,"v":40.5},{"i":92.1,"v":31.9},{"i":95,"v":36.2},{"i":98.3,"v":35.6},{"i":102.7,"v":32.8},{"i":105.6,"v":27.6},{"i":110,"v":35.6},{"i":112.8,"v":27.6},{"i":115.1,"v":30.4},{"i":118.4,"v":37.7},{"i":120.7,"v":43.4},{"i":122.9,"v":51.1},{"i":124,"v":52},{"i":126.3,"v":42},{"i":128.5,"v":41.4},{"i":131.8,"v":42.5},{"i":134.7,"v":44.8},{"i":137.5,"v":46.3},{"i":140.8,"v":49.1},{"i":142.5,"v":53.4},{"i":145.2,"v":56},{"i":147.3,"v":58},{"i":149.6,"v":50},{"i":151.5,"v":40.5},{"i":153.1,"v":36.2},{"i":157.1,"v":36.2},{"i":161.5,"v":31.9},{"i":165.5,"v":27.6},{"i":167.7,"v":22.4},{"i":170,"v":25},{"i":174.4,"v":33.4},{"i":175.8,"v":33.3},{"i":178.7,"v":34.7},{"i":180.8,"v":42},{"i":182.9,"v":45.4},{"i":185,"v":48.3},{"i":185.8,"v":50.6},{"i":186.7,"v":49.1},{"i":190,"v":49.02}
  ],
  "mdi": [
{"i":0,"v":27.6},{"i":4.1,"v":32.8},{"i":6.8,"v":31.9},{"i":14.1,"v":19},{"i":18.1,"v":14.7},{"i":20.8,"v":27.6},{"i":23.7,"v":19},{"i":27.6,"v":11.8},{"i":31.5,"v":19},{"i":34.3,"v":23.3},{"i":38.8,"v":16.1},{"i":42.1,"v":14.7},{"i":46.1,"v":11.8},{"i":50,"v":17.5},{"i":53.3,"v":16.1},{"i":56.1,"v":19},{"i":58.9,"v":14.7},{"i":62.8,"v":11.8},{"i":66.8,"v":8.9},{"i":69.6,"v":17.5},{"i":72.3,"v":31.9},{"i":75.7,"v":47.7},{"i":79.1,"v":39},{"i":80.7,"v":33.3},{"i":83,"v":37.7},{"i":86.9,"v":24.7},{"i":90.5,"v":17.5},{"i":94.9,"v":11.8},{"i":96.1,"v":17.5},{"i":98.3,"v":15},{"i":102.8,"v":16.4},{"i":103.8,"v":21.8},{"i":107.2,"v":24.7},{"i":109.5,"v":25.3},{"i":111.7,"v":19},{"i":115.1,"v":11.8},{"i":118.4,"v":7.5},{"i":122.3,"v":6.9},{"i":124,"v":10.3},{"i":126.3,"v":24.7},{"i":127.3,"v":31.9},{"i":129.6,"v":33.3},{"i":131.8,"v":27.6},{"i":134.7,"v":31.9},{"i":137.5,"v":33.3},{"i":140.8,"v":27.6},{"i":143.6,"v":40.5},{"i":147.5,"v":27.6},{"i":150.3,"v":24.7},{"i":154.3,"v":19},{"i":156,"v":33.3},{"i":158.7,"v":21.8},{"i":162.1,"v":17.5},{"i":164.3,"v":27.6},{"i":167.7,"v":17.5},{"i":171.1,"v":26.1},{"i":174.4,"v":24.7},{"i":176.2,"v":24.7},{"i":179.6,"v":33.3},{"i":182.9,"v":24.7},{"i":184.2,"v":22.4},{"i":185.4,"v":26.1},{"i":187.9,"v":26.1},{"i":190,"v":19.16}
  ],
  "pdi": [
{"i":0,"v":29},{"i":1.8,"v":24.7},{"i":4.6,"v":16.1},{"i":6.8,"v":14.7},{"i":9.7,"v":31.9},{"i":13,"v":34.7},{"i":14.7,"v":27.6},{"i":17,"v":36.2},{"i":19.7,"v":26.1},{"i":23.1,"v":20.4},{"i":25.3,"v":27.6},{"i":27.6,"v":27.6},{"i":29.8,"v":21.8},{"i":32.1,"v":17.5},{"i":34.8,"v":23.3},{"i":37.7,"v":24.7},{"i":40.5,"v":21.8},{"i":43.8,"v":17.5},{"i":46.1,"v":24.7},{"i":48.8,"v":21.8},{"i":50,"v":30.4},{"i":52.8,"v":21.8},{"i":55.6,"v":20.4},{"i":58.9,"v":16.1},{"i":60.6,"v":23.3},{"i":64,"v":26.1},{"i":66.2,"v":30.4},{"i":69,"v":20.4},{"i":72.3,"v":14.7},{"i":75.2,"v":10.3},{"i":80.2,"v":6},{"i":83,"v":6},{"i":85.2,"v":14.7},{"i":86.9,"v":17.5},{"i":89.3,"v":19},{"i":92.1,"v":30.4},{"i":94.3,"v":32.8},{"i":97.2,"v":30.4},{"i":99.4,"v":26.1},{"i":102.2,"v":21.8},{"i":105,"v":14.7},{"i":107.2,"v":11.8},{"i":109.5,"v":8.9},{"i":111.2,"v":17.5},{"i":114,"v":23.3},{"i":116.2,"v":27.6},{"i":119,"v":30.4},{"i":121.8,"v":26.1},{"i":124,"v":23.3},{"i":126.3,"v":19},{"i":129.6,"v":13.2},{"i":133,"v":14.7},{"i":136.3,"v":11.8},{"i":140.8,"v":8.9},{"i":144.7,"v":7.5},{"i":147,"v":8.9},{"i":148.7,"v":16.1},{"i":151.5,"v":17.5},{"i":154.3,"v":13.2},{"i":157.1,"v":8.9},{"i":159.3,"v":17.5},{"i":162.1,"v":17.5},{"i":166.6,"v":17.5},{"i":168.2,"v":16.1},{"i":171.1,"v":13.2},{"i":174.4,"v":10.3},{"i":175.8,"v":16.1},{"i":177.1,"v":14.7},{"i":178.7,"v":11.8},{"i":180.8,"v":8.9},{"i":182.9,"v":8.3},{"i":185.8,"v":7.5},{"i":186.7,"v":10.9},{"i":187.9,"v":10.3},{"i":188.7,"v":8.3},{"i":190,"v":6.6}
  ],
  "rsilv": [{"v":70},{"v":30}]
},
"vconcat": [
{
  "width": 1820, "height": 694,
  "title": {"text": "AUDUSD.fxs, Daily:\u00a0 Australian vs US Dollar"},
  "layer": [
    {"data": {"name": "zones"}, "mark": {"type": "rect", "color": "#ADD8E6"},
     "encoding": {
       "x": {"field": "a", "type": "quantitative", "scale": {"domain": [-0.1625, 227.3375], "nice": false, "zero": false}, "axis": null},
       "x2": {"field": "b"},
       "y": {"field": "p1", "type": "quantitative", "scale": {"domain": [0.61723, 0.69561], "nice": false, "zero": false},
             "axis": {"orient": "right", "values": [0.6928,0.6892,0.6856,0.682,0.6784,0.6748,0.664,0.6604,0.6532,0.6496,0.6424,0.6388,0.6352,0.6316,0.628,0.6244], "format": ".5f"}},
       "y2": {"field": "p2"}}},
    {"data": {"name": "grid"}, "mark": {"type": "rule", "color": "#000000", "strokeWidth": 1, "strokeDash": [3, 2]},
     "encoding": {"x": {"field": "i", "type": "quantitative"}}},
    {"data": {"name": "bars"}, "mark": {"type": "rule", "color": "#000000", "strokeWidth": 1, "clip": true},
     "encoding": {"x": {"field": "i", "type": "quantitative"}, "y": {"field": "l", "type": "quantitative"}, "y2": {"field": "h"}}},
    {"data": {"name": "bars"}, "mark": {"type": "bar", "size": 4, "stroke": "#000000", "strokeWidth": 1, "clip": true},
     "encoding": {"x": {"field": "i", "type": "quantitative"}, "y": {"field": "o", "type": "quantitative"}, "y2": {"field": "c"},
       "fill": {"condition": {"test": "datum.c >= datum.o", "value": "#0000FF"}, "value": "#FF0000"}}},
    {"data": {"name": "ma200"}, "mark": {"type": "line", "color": "#32CD32", "strokeWidth": 2, "clip": true},
     "encoding": {"x": {"field": "i", "type": "quantitative"}, "y": {"field": "p", "type": "quantitative"}}},
    {"data": {"name": "ma50"}, "mark": {"type": "line", "color": "#FF0000", "strokeWidth": 2, "clip": true},
     "encoding": {"x": {"field": "i", "type": "quantitative"}, "y": {"field": "p", "type": "quantitative"}}},
    {"data": {"name": "ma20"}, "mark": {"type": "line", "color": "#0000FF", "strokeWidth": 2, "clip": true},
     "encoding": {"x": {"field": "i", "type": "quantitative"}, "y": {"field": "p", "type": "quantitative"}}},
    {"data": {"name": "chan"}, "mark": {"type": "line", "color": "#9400D3", "strokeWidth": 2, "clip": true},
     "encoding": {"x": {"field": "i", "type": "quantitative"}, "y": {"field": "p", "type": "quantitative"}, "detail": {"field": "s"}}},
    {"data": {"name": "bid"}, "mark": {"type": "rule", "color": "#778899", "strokeWidth": 1},
     "encoding": {"y": {"field": "p", "type": "quantitative"}}},
    {"data": {"name": "levels"}, "mark": {"type": "rule", "color": "#1E90FF", "strokeWidth": 1.5},
     "encoding": {"y": {"field": "p", "type": "quantitative"}}},
    {"data": {"name": "levels"}, "mark": {"type": "bar", "orient": "horizontal", "size": 9, "color": "#1E90FF"},
     "encoding": {"x": {"datum": 227.65, "type": "quantitative"}, "x2": {"datum": 232.52}, "y": {"field": "p", "type": "quantitative"}}},
    {"data": {"name": "bid"}, "mark": {"type": "bar", "orient": "horizontal", "size": 9, "color": "#778899"},
     "encoding": {"x": {"datum": 227.65, "type": "quantitative"}, "x2": {"datum": 232.52}, "y": {"field": "p", "type": "quantitative"}}},
    {"data": {"name": "levels"}, "mark": {"type": "text", "align": "left", "baseline": "middle", "color": "#FFFFFF", "font": "DejaVu Sans", "fontSize": 8},
     "encoding": {"x": {"datum": 227.9, "type": "quantitative"}, "y": {"field": "p", "type": "quantitative"}, "text": {"field": "p", "type": "quantitative", "format": ".5f"}}},
    {"data": {"name": "bid"}, "mark": {"type": "text", "align": "left", "baseline": "middle", "color": "#FFFFFF", "font": "DejaVu Sans", "fontSize": 8},
     "encoding": {"x": {"datum": 227.9, "type": "quantitative"}, "y": {"field": "p", "type": "quantitative"}, "text": {"field": "p", "type": "quantitative", "format": ".5f"}}}
  ]
},
{
  "width": 1820, "height": 75,
  "title": {"text": "RSI(14) 30.84"},
  "layer": [
    {"data": {"name": "grid"}, "mark": {"type": "rule", "color": "#000000", "strokeWidth": 1, "strokeDash": [3, 2]},
     "encoding": {"x": {"field": "i", "type": "quantitative", "scale": {"domain": [-0.1625, 227.3375], "nice": false, "zero": false}, "axis": null}}},
    {"data": {"name": "rsilv"}, "mark": {"type": "rule", "color": "#C0C0C0", "strokeWidth": 1, "strokeDash": [4, 3]},
     "encoding": {"y": {"field": "v", "type": "quantitative", "scale": {"domain": [0, 100], "nice": false}, "axis": {"orient": "right", "values": [100, 70, 30, 0], "format": ".2f", "labelFlush": true}}}},
    {"data": {"name": "rsi"}, "mark": {"type": "line", "color": "#1E90FF", "strokeWidth": 1},
     "encoding": {"x": {"field": "i", "type": "quantitative"}, "y": {"field": "v", "type": "quantitative"}}}
  ]
},
{
  "width": 1820, "height": 81,
  "title": {"text": "MACD(12,26,9) -0.007521 -0.007742"},
  "layer": [
    {"data": {"name": "grid"}, "mark": {"type": "rule", "color": "#000000", "strokeWidth": 1, "strokeDash": [3, 2]},
     "encoding": {"x": {"field": "i", "type": "quantitative", "scale": {"domain": [-0.1625, 227.3375], "nice": false, "zero": false}, "axis": null}}},
    {"data": {"name": "macd"}, "mark": {"type": "bar", "size": 3, "color": "#C0C0C0"},
     "encoding": {"x": {"field": "i", "type": "quantitative"},
       "y": {"field": "m", "type": "quantitative", "scale": {"domain": [-0.009313, 0.006726], "nice": false, "zero": false}, "axis": {"orient": "right", "values": [0.006726, 0, -0.009313], "format": ".6f", "labelFlush": true, "labelExpr": "replace(datum.label, '\u2212', '-')"}},
       "y2": {"datum": 0}}},
    {"data": {"name": "sig"}, "mark": {"type": "line", "color": "#FF0000", "strokeWidth": 1},
     "encoding": {"x": {"field": "i", "type": "quantitative"}, "y": {"field": "s", "type": "quantitative"}}}
  ]
},
{
  "width": 1820, "height": 84,
  "title": {"text": "ADX(14) 49.02 6.60 19.16"},
  "layer": [
    {"data": {"name": "grid"}, "mark": {"type": "rule", "color": "#000000", "strokeWidth": 1, "strokeDash": [3, 2]},
     "encoding": {"x": {"field": "i", "type": "quantitative", "scale": {"domain": [-0.1625, 227.3375], "nice": false, "zero": false},
       "axis": {"orient": "bottom", "values": [0,8,16,24,32,40,48,56,64,72,80,88,96,104,112,120,128,136,144,152,160,168,176,184], "labelAlign": "left", "labelPadding": 4, "tickSize": 4, "labelFlush": false, "labelBound": false,
         "labelExpr": "['10 Apr 2024','22 Apr 2024','2 May 2024','14 May 2024','24 May 2024','5 Jun 2024','17 Jun 2024','27 Jun 2024','9 Jul 2024','19 Jul 2024','31 Jul 2024','12 Aug 2024','22 Aug 2024','3 Sep 2024','13 Sep 2024','25 Sep 2024','7 Oct 2024','17 Oct 2024','29 Oct 2024','8 Nov 2024','20 Nov 2024','2 Dec 2024','12 Dec 2024','24 Dec 2024'][round(datum.value/8)]"}}}},
    {"data": {"name": "mdi"}, "mark": {"type": "line", "color": "#F5DEB3", "strokeWidth": 1, "strokeDash": [4, 2]},
     "encoding": {"x": {"field": "i", "type": "quantitative"}, "y": {"field": "v", "type": "quantitative", "scale": {"domain": [0, 72.42], "nice": false, "zero": false}, "axis": {"orient": "right", "values": [72.42, 0], "format": ".2f", "labelFlush": true}}}},
    {"data": {"name": "pdi"}, "mark": {"type": "line", "color": "#9ACD32", "strokeWidth": 1, "strokeDash": [4, 2]},
     "encoding": {"x": {"field": "i", "type": "quantitative"}, "y": {"field": "v", "type": "quantitative"}}},
    {"data": {"name": "adx"}, "mark": {"type": "line", "color": "#20B2AA", "strokeWidth": 1.5},
     "encoding": {"x": {"field": "i", "type": "quantitative"}, "y": {"field": "v", "type": "quantitative"}}}
  ]
}
]
}
